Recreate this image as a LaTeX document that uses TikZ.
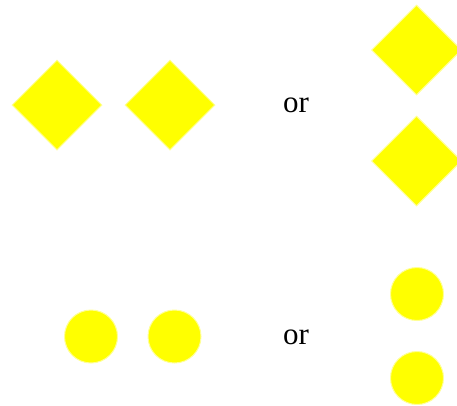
\documentclass[tikz,border=0pt]{standalone}
\usepackage{fontspec}
\setmainfont{Liberation Serif}
\usetikzlibrary{shapes.geometric}
\definecolor{yel}{RGB}{255,255,0}
\definecolor{yelrim}{RGB}{255,255,150}
\tikzset{
  dia/.style={diamond, fill=yel, draw=yelrim, line width=1pt, inner sep=0pt, minimum width=90pt, minimum height=90pt, aspect=1},
  dot/.style={circle, fill=yel, draw=yelrim, line width=1pt, inner sep=0pt, minimum size=53pt},
  ortext/.style={font=\fontsize{31}{36}\selectfont, inner sep=0pt}
}
\begin{document}
\begin{tikzpicture}[x=1pt,y=-1pt]
\useasboundingbox (0,0) rectangle (457,405);
\node[dia] (d1) at (57,105) {};
\node[dia] (d2) at (170,105) {};
\node[dia] (d3) at (416.5,50) {};
\node[dia] (d4) at (416.5,161) {};
\node[ortext, anchor=base] (or1) at (296,112) {or};
\node[dot] (c1) at (91,336.5) {};
\node[dot] (c2) at (174.5,336.5) {};
\node[dot] (c3) at (417,294) {};
\node[dot] (c4) at (417,378) {};
\node[ortext, anchor=base] (or2) at (296,344) {or};
\end{tikzpicture}
\end{document}
